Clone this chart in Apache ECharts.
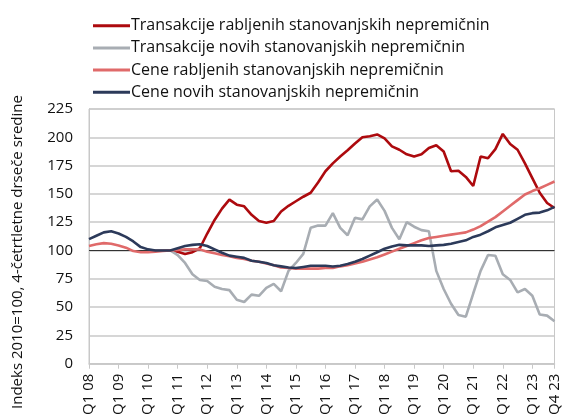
<!DOCTYPE html>
<html>
<head>
<meta charset="utf-8">
<script src="https://cdn.jsdelivr.net/npm/echarts@6/dist/echarts.min.js"></script>
<style>
  html, body { margin: 0; padding: 0; background: #fff; }
  #chart { width: 562px; height: 418px; }
</style>
</head>
<body>
<div id="chart"></div>
<script>
// kvartali Q1 08 - Q4 23
var quarters = [
  'Q1 08','Q2 08','Q3 08','Q4 08','Q1 09','Q2 09','Q3 09','Q4 09',
  'Q1 10','Q2 10','Q3 10','Q4 10','Q1 11','Q2 11','Q3 11','Q4 11',
  'Q1 12','Q2 12','Q3 12','Q4 12','Q1 13','Q2 13','Q3 13','Q4 13',
  'Q1 14','Q2 14','Q3 14','Q4 14','Q1 15','Q2 15','Q3 15','Q4 15',
  'Q1 16','Q2 16','Q3 16','Q4 16','Q1 17','Q2 17','Q3 17','Q4 17',
  'Q1 18','Q2 18','Q3 18','Q4 18','Q1 19','Q2 19','Q3 19','Q4 19',
  'Q1 20','Q2 20','Q3 20','Q4 20','Q1 21','Q2 21','Q3 21','Q4 21',
  'Q1 22','Q2 22','Q3 22','Q4 22','Q1 23','Q2 23','Q3 23','Q4 23'
];

var seriesNames = [
  'Transakcije rabljenih stanovanjskih nepremičnin',
  'Transakcije novih stanovanjskih nepremičnin',
  'Cene rabljenih stanovanjskih nepremičnin',
  'Cene novih stanovanjskih nepremičnin'
];

// transakcije rabljenih
var transRabljene = [
  null,null,null,null,null,null,null,null,
  100,100,100,100,99,97,98.5,102,
  115,127,137,145,140.5,139,131.5,126,
  124.5,126,134.5,139.5,143.5,147.5,151,160,
  170,177,183,188.5,194.5,200,201,202.5,
  199,192,189,185,183,185,190.5,193,
  187.5,170,170.5,165,157,183,181.5,189.5,
  203,194,189,177,164,151,142,137.5
];

// transakcije novih
var transNove = [
  null,null,null,null,null,null,null,null,
  100,100,100,100,96,89,79,74,
  73,68,66,65,56.5,54.5,61,60,
  67,70.5,64,82,89,97,120,122,
  122,133,120,113.5,129,127.5,139,145,
  135,120,110,125,121,118,117,82,
  66,53,43,41.5,62,82,96,95.3,
  79,74,63,66,60,43.5,42.5,37.5
];

// cene rabljenih
var ceneRabljene = [
  104,105.5,106.5,106,104.5,102.5,99.5,98.5,
  98.5,99,99.5,100,100.5,101,101,101,
  99,97.5,96,95,93.5,92.5,91,90,
  88.5,87,85,84.5,84,84,84,84,
  84.5,84.5,86,87,88.5,90,92,94,
  96.5,99,101.5,104,106.5,109,111,112,
  113,114,115,116,118.5,121.5,125.5,129.5,
  134.5,139.5,144.5,149.5,152.5,155,158,161
];

// cene novih
var ceneNove = [
  110,113,116,117,115,112,108,103,
  101,100,100,100,102,104,105,105.5,
  104,101,98,95.5,94.5,93.5,91,90,
  89,87,86,85,84.5,85.5,86.5,86.5,
  86.5,85.8,86.5,88,90,92.5,95.5,98.5,
  101.5,103.5,105,104.5,104.5,104.5,104,104.5,
  105,106,107.5,109,112,114,117,120.5,
  122.5,124.5,128,131.5,133,133.5,135.5,138.5
];

var colors = ['#ad0a0e', '#a8adb3', '#e06a6a', '#2c3a5a'];

var yTicks = [0, 25, 50, 75, 100, 125, 150, 175, 200, 225];

function showLabel(idx) {
  return idx % 4 === 0 || idx === quarters.length - 1;
}

var chart = echarts.init(document.getElementById('chart'));

var dataSets = [transRabljene, transNove, ceneRabljene, ceneNove];
var series = [];
for (var i = 0; i < dataSets.length; i++) {
  series.push({
    name: seriesNames[i],
    type: 'line',
    data: dataSets[i],
    showSymbol: false,
    symbol: 'none',
    lineStyle: { width: 2.6, color: colors[i] },
    itemStyle: { color: colors[i] },
    z: 3 + i
  });
}
// referenčna črta pri 100
series.push({
  type: 'line',
  data: [],
  silent: true,
  markLine: {
    silent: true,
    symbol: 'none',
    label: { show: false },
    lineStyle: { color: '#333', width: 1, type: 'solid' },
    data: [{ yAxis: 100 }]
  },
  z: 2
});

var option = {
  animation: false,
  color: colors,
  grid: {
    left: 89, right: 7, top: 109, bottom: 53,
    show: true, borderColor: '#c8c8c8', borderWidth: 1
  },
  legend: {
    orient: 'vertical',
    left: 88, top: 12.7,
    itemWidth: 37, itemHeight: 3, itemGap: 6.2,
    icon: 'rect',
    data: seriesNames,
    textStyle: { fontFamily: 'Open Sans', fontSize: 16, color: '#111', lineHeight: 16, padding: [0, 0, 0, -4] }
  },
  xAxis: {
    type: 'category',
    data: quarters,
    boundaryGap: false,
    axisLine: { lineStyle: { color: '#c8c8c8', width: 1.5 } },
    axisTick: { show: true, interval: function (idx) { return showLabel(idx); }, length: 5, lineStyle: { color: '#c8c8c8' } },
    axisLabel: {
      interval: function (idx) { return showLabel(idx); },
      rotate: 90, margin: 10,
      fontFamily: 'Open Sans', fontSize: 15, color: '#111'
    },
    splitLine: { show: false }
  },
  yAxis: {
    type: 'value',
    min: yTicks[0], max: yTicks[yTicks.length - 1], interval: 25,
    axisLine: { show: true, lineStyle: { color: '#c8c8c8' } },
    axisTick: { show: false },
    axisLabel: { margin: 16, fontFamily: 'Open Sans', fontSize: 15, color: '#111' },
    splitLine: { lineStyle: { color: '#c8c8c8', width: 1.5 } }
  },
  graphic: [{
    type: 'text',
    x: 18, y: 252,
    rotation: Math.PI / 2,
    style: {
      text: 'Indeks 2010=100, 4-četrtletne drseče sredine',
      fontFamily: 'Open Sans', fontSize: 15, fill: '#111',
      textAlign: 'center', textVerticalAlign: 'middle'
    }
  }],
  series: series
};

chart.setOption(option);
</script>
</body>
</html>
